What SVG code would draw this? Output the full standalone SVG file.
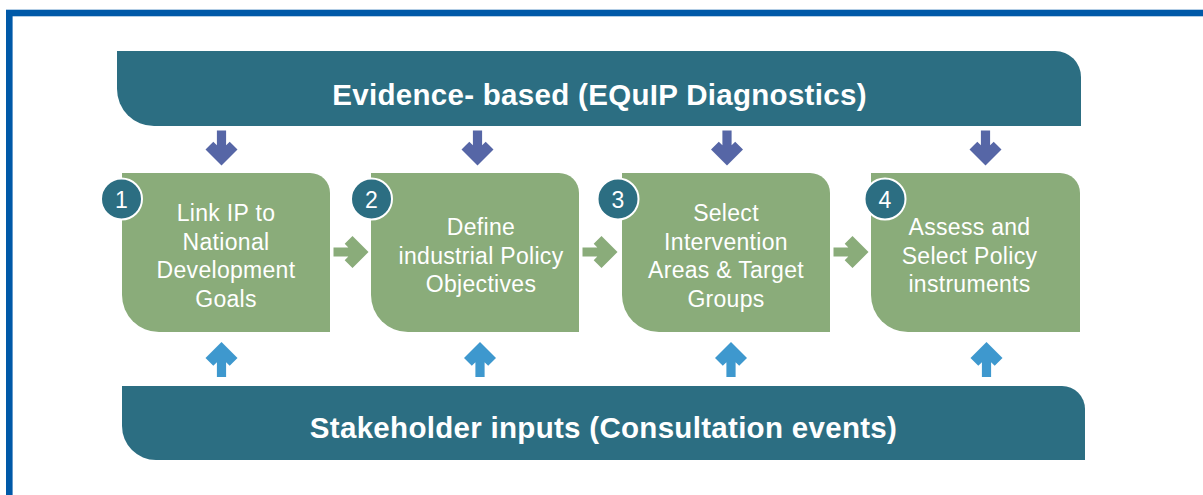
<svg xmlns="http://www.w3.org/2000/svg" xmlns:xlink="http://www.w3.org/1999/xlink" width="1203" height="495" viewBox="0 0 1203 495">
  <style>
    .banner { fill: #2C6E82; }
    .node { fill: #8AAC7A; }
    .badge { fill: #2C6E82; stroke: #FFFFFF; stroke-width: 2; }
    .btitle { font-family: "Liberation Sans", Arial, sans-serif; font-weight: bold; font-size: 29.5px; fill: #FFFFFF; text-anchor: middle; letter-spacing: 0.3px; }
    .ntext { font-family: "Liberation Sans", Arial, sans-serif; font-size: 23px; fill: #FFFFFF; text-anchor: middle; letter-spacing: 0.3px; }
    .num { font-family: "Liberation Sans", Arial, sans-serif; font-size: 23px; fill: #FFFFFF; text-anchor: middle; }
    .down { fill: #5666A6; }
    .up { fill: #3E98CE; }
    .right { fill: #8AAC7A; }
  </style>
  <defs>
    <path id="arrow" d="M0,0 L-16,-16 L-8.2,-23.8 L-4.6,-20.2 L-4.6,-35 L4.6,-35 L4.6,-20.2 L8.2,-23.8 L16,-16 Z"/>
  </defs>

  <rect x="0" y="0" width="1203" height="495" fill="#FFFFFF"/>
  <!-- frame -->
  <rect x="9.3" y="13" width="1300" height="600" fill="none" stroke="#0059A8" stroke-width="6.6"/>

  <g id="evidence">
    <path class="banner" d="M117,51 H1055 A26,26 0 0 1 1081,77 V126 H154 A37,37 0 0 1 117,89 Z"/>
    <text class="btitle" x="599.5" y="104.5">Evidence- based (EQuIP Diagnostics)</text>
  </g>

  <g id="stakeholder">
    <path class="banner" d="M122,386 H1062 A23,23 0 0 1 1085,409 V460 H156 A34,34 0 0 1 122,426 Z"/>
    <text class="btitle" x="603.5" y="437.5">Stakeholder inputs (Consultation events)</text>
  </g>

  <g id="node1">
    <path class="node" d="M122,173 H310 A20,20 0 0 1 330,193 V332 H159 A37,37 0 0 1 122,295 Z"/>
    <circle class="badge" cx="121.5" cy="199" r="20.5"/>
    <text class="num" x="121.5" y="207.5">1</text>
    <text class="ntext" x="226" y="221">Link IP to</text>
    <text class="ntext" x="226" y="249.5">National</text>
    <text class="ntext" x="226" y="278">Development</text>
    <text class="ntext" x="226" y="306.5">Goals</text>
  </g>

  <g id="node2">
    <path class="node" d="M371,173 H559 A20,20 0 0 1 579,193 V332 H408 A37,37 0 0 1 371,295 Z"/>
    <circle class="badge" cx="371.5" cy="199" r="20.5"/>
    <text class="num" x="371.5" y="207.5">2</text>
    <text class="ntext" x="481" y="235">Define</text>
    <text class="ntext" x="481" y="263.5">industrial Policy</text>
    <text class="ntext" x="481" y="292">Objectives</text>
  </g>

  <g id="node3">
    <path class="node" d="M622,173 H810 A20,20 0 0 1 830,193 V332 H659 A37,37 0 0 1 622,295 Z"/>
    <circle class="badge" cx="618" cy="199" r="20.5"/>
    <text class="num" x="618" y="207.5">3</text>
    <text class="ntext" x="726" y="221">Select</text>
    <text class="ntext" x="726" y="249.5">Intervention</text>
    <text class="ntext" x="726" y="278">Areas &amp; Target</text>
    <text class="ntext" x="726" y="306.5">Groups</text>
  </g>

  <g id="node4">
    <path class="node" d="M871,173 H1060 A20,20 0 0 1 1080,193 V332 H908 A37,37 0 0 1 871,295 Z"/>
    <circle class="badge" cx="885" cy="199" r="20.5"/>
    <text class="num" x="885" y="207.5">4</text>
    <text class="ntext" x="969.5" y="235">Assess and</text>
    <text class="ntext" x="969.5" y="263.5">Select Policy</text>
    <text class="ntext" x="969.5" y="292">instruments</text>
  </g>

  <g id="connectors">
    <use xlink:href="#arrow" class="down" transform="translate(221.5,165.5)"/>
    <use xlink:href="#arrow" class="down" transform="translate(477.5,165.5)"/>
    <use xlink:href="#arrow" class="down" transform="translate(727,165.5)"/>
    <use xlink:href="#arrow" class="down" transform="translate(985.5,165.5)"/>

    <use xlink:href="#arrow" class="up" transform="translate(221.5,342) rotate(180)"/>
    <use xlink:href="#arrow" class="up" transform="translate(480,342) rotate(180)"/>
    <use xlink:href="#arrow" class="up" transform="translate(731,342) rotate(180)"/>
    <use xlink:href="#arrow" class="up" transform="translate(986.5,342) rotate(180)"/>

    <use xlink:href="#arrow" class="right" transform="translate(368.5,252) rotate(-90)"/>
    <use xlink:href="#arrow" class="right" transform="translate(617.5,252) rotate(-90)"/>
    <use xlink:href="#arrow" class="right" transform="translate(868.5,252) rotate(-90)"/>
  </g>
</svg>
